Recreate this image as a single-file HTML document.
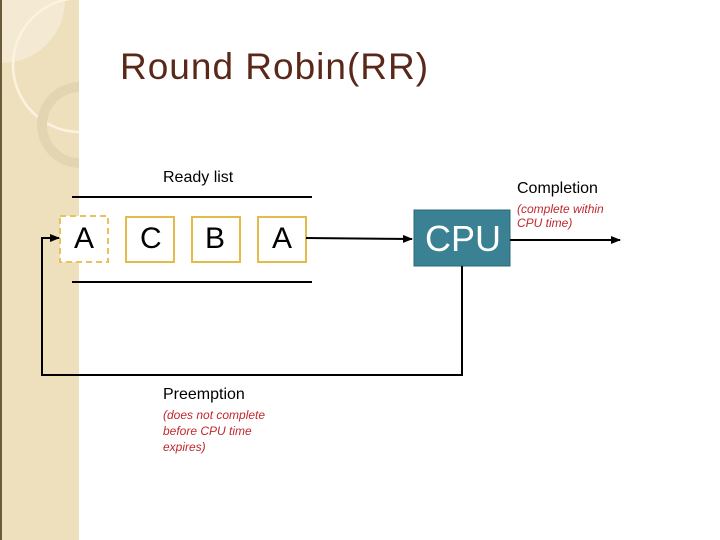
<!DOCTYPE html>
<html><head><style>
body{margin:0;width:720px;height:540px;background:#fff;position:relative;overflow:hidden;font-family:"Liberation Sans",sans-serif}
.t{position:absolute;white-space:nowrap}
</style></head><body>
<svg width="720" height="540" style="position:absolute;left:0;top:0">
<defs><marker id="ar" markerWidth="10" markerHeight="8" refX="9" refY="4" orient="auto" markerUnits="userSpaceOnUse"><path d="M0,0 L10,4 L0,8 Z" fill="#000"/></marker>
<clipPath id="sb"><rect x="0" y="0" width="79" height="540"/></clipPath></defs>
<rect x="0" y="0" width="79" height="540" fill="#efe0bd"/>
<g clip-path="url(#sb)">
<circle cx="2" cy="0" r="63" fill="#f4e9d2"/>
<circle cx="80" cy="65" r="67" fill="none" stroke="#fbf3df" stroke-width="2.5"/>
<circle cx="80" cy="125" r="38" fill="none" stroke="#e3d4b2" stroke-width="10"/>
</g>
<rect x="0" y="0" width="2" height="540" fill="#6b5a3a"/>
<line x1="72" y1="197" x2="312" y2="197" stroke="#000" stroke-width="2"/>
<line x1="72" y1="282" x2="312" y2="282" stroke="#000" stroke-width="2"/>
<rect x="60" y="216" width="48" height="46" fill="#fff" stroke="#e8c25a" stroke-width="2" stroke-dasharray="6,4"/>
<rect x="126" y="217" width="48" height="45" fill="#fff" stroke="#e3bb4a" stroke-width="2"/>
<rect x="192" y="217" width="48" height="45" fill="#fff" stroke="#e3bb4a" stroke-width="2"/>
<rect x="258" y="217" width="48" height="45" fill="#fff" stroke="#e3bb4a" stroke-width="2"/>
<line x1="306" y1="238" x2="412" y2="239" stroke="#000" stroke-width="2" marker-end="url(#ar)"/>
<rect x="414" y="210" width="96" height="56" fill="#3a8193" stroke="#2c6775" stroke-width="1"/>
<line x1="510" y1="240" x2="620" y2="240" stroke="#000" stroke-width="2" marker-end="url(#ar)"/>
<polyline points="462,266 462,375 42,375 42,238 59,238" fill="none" stroke="#000" stroke-width="2" marker-end="url(#ar)"/>
</svg>
<div class="t" style="left:120px;top:46px;font-size:37px;letter-spacing:1px;color:#5a2818">Round Robin(RR)</div>
<div class="t" style="left:163px;top:169px;font-size:16px">Ready list</div>
<div class="t" style="left:517px;top:180px;font-size:16px">Completion</div>
<div class="t" style="left:517px;top:202px;font-size:12px;font-style:italic;color:#c0282d;line-height:14px">(complete within<br>CPU time)</div>
<div class="t" style="left:74px;top:222px;font-size:30px">A</div>
<div class="t" style="left:140px;top:222px;font-size:30px">C</div>
<div class="t" style="left:205px;top:222px;font-size:30px">B</div>
<div class="t" style="left:272px;top:222px;font-size:30px">A</div>
<div class="t" style="left:425px;top:218px;font-size:36px;color:#fff">CPU</div>
<div class="t" style="left:163px;top:386px;font-size:16px">Preemption</div>
<div class="t" style="left:163px;top:407px;font-size:12px;font-style:italic;color:#c0282d;line-height:16px">(does not complete<br>before CPU time<br>expires)</div>
</body></html>
